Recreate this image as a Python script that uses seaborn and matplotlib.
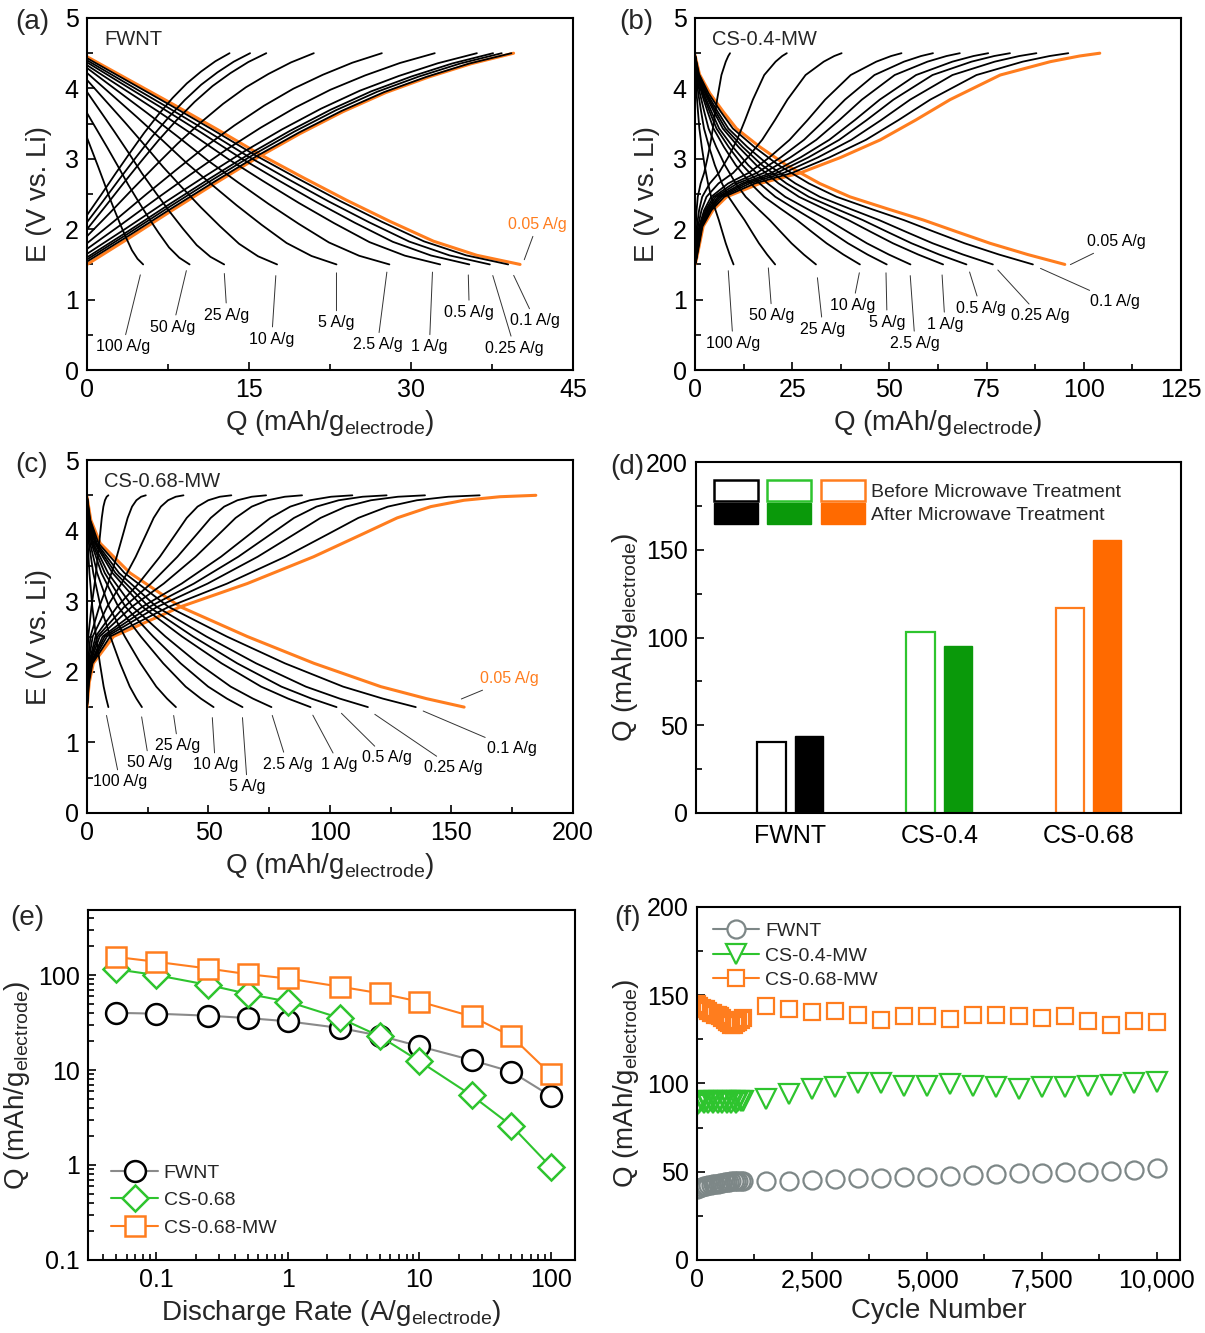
import numpy as np
import pandas as pd
import matplotlib
matplotlib.use('Agg')
import matplotlib.pyplot as plt
import matplotlib.ticker as mticker
from matplotlib.patches import Rectangle
from matplotlib.lines import Line2D
from matplotlib.legend_handler import HandlerTuple
import seaborn as sns

# ---------------- data ----------------
RATES = ['100', '50', '25', '10', '5', '2.5', '1', '0.5', '0.25', '0.1', '0.05']

# (a) FWNT : end capacities of charge / discharge branches and start voltages
FWNT_CHG_Q = [13.2, 15.1, 16.6, 21.0, 27.3, 32.2, 36.1, 37.6, 38.4, 39.3, 39.5]
FWNT_DIS_Q = [5.2, 9.5, 12.7, 17.6, 23.1, 28.0, 32.7, 35.4, 37.3, 39.0, 40.1]
FWNT_CHG_E0 = [2.2, 2.1, 2.0, 1.9, 1.8, 1.72, 1.65, 1.6, 1.57, 1.54, 1.5]
FWNT_DIS_E0 = [3.3, 3.65, 3.95, 4.12, 4.22, 4.29, 4.33, 4.37, 4.4, 4.43, 4.45]
# shape of the 0.05 A/g branches (fraction of capacity, voltage)
FWNT_CHG_SHAPE_Q = [0, 0.1, 0.2, 0.3, 0.4, 0.5, 0.6, 0.7, 0.8, 0.9, 1.0]
FWNT_CHG_SHAPE_E = [1.5, 1.88, 2.27, 2.65, 3.02, 3.36, 3.67, 3.94, 4.16, 4.35, 4.5]
FWNT_DIS_SHAPE_Q = [0, 0.1, 0.2, 0.3, 0.4, 0.5, 0.6, 0.7, 0.8, 0.9, 1.0]
FWNT_DIS_SHAPE_E = [4.45, 4.11, 3.77, 3.42, 3.06, 2.73, 2.41, 2.11, 1.83, 1.63, 1.5]

# (b) CS-0.4-MW
CS04_CHG_Q = [9.0, 23.6, 37.7, 53.1, 61.2, 68.1, 75.4, 81.0, 87.8, 96.0, 104.1]
CS04_DIS_Q = [9.9, 20.6, 31.1, 42.4, 49.3, 55.4, 63.8, 69.8, 76.6, 86.9, 95.1]
CS04_CHG_SHAPE_Q = [0, 0.003, 0.02, 0.044, 0.078, 0.16, 0.26, 0.36, 0.458, 0.545,
                    0.63, 0.754, 0.878, 0.95, 1.0]
CS04_CHG_SHAPE_E = [1.5, 1.56, 2.04, 2.27, 2.46, 2.65, 2.8, 3.02, 3.27, 3.55,
                    3.84, 4.19, 4.38, 4.46, 4.5]
CS04_DIS_SHAPE_Q = [0, 0.012, 0.04, 0.076, 0.112, 0.175, 0.247, 0.337, 0.419, 0.52,
                    0.618, 0.71, 0.798, 0.9, 1.0]
CS04_DIS_SHAPE_E = [4.47, 4.2, 3.93, 3.67, 3.43, 3.17, 2.91, 2.65, 2.46, 2.29,
                    2.13, 1.96, 1.8, 1.64, 1.5]

# (c) CS-0.68-MW
CS068_CHG_Q = [8.8, 24.2, 39.7, 59.4, 73.7, 88.5, 109.2, 123.3, 139.1, 161.6, 184.7]
CS068_DIS_Q = [8.8, 22.6, 36.6, 52.1, 64.0, 75.9, 92.0, 102.7, 115.6, 135.3, 155.2]
CS068_CHG_SHAPE_Q = [0, 0.005, 0.014, 0.059, 0.208, 0.357, 0.505, 0.617, 0.691,
                     0.766, 0.84, 0.92, 1.0]
CS068_CHG_SHAPE_E = [1.5, 1.85, 2.12, 2.5, 2.92, 3.25, 3.63, 3.96, 4.18,
                     4.34, 4.43, 4.48, 4.5]
CS068_DIS_SHAPE_Q = [0, 0.01, 0.035, 0.114, 0.248, 0.425, 0.602, 0.779, 0.9, 1.0]
CS068_DIS_SHAPE_E = [4.48, 4.15, 3.82, 3.4, 2.92, 2.5, 2.12, 1.79, 1.62, 1.5]

# (d) bars
SAMPLES = ['FWNT', 'CS-0.4', 'CS-0.68']
Q_BEFORE = [40.2, 103.2, 116.9]
Q_AFTER = [44.1, 95.1, 155.3]

# (e) rate capability
RATE_X = [0.05, 0.1, 0.25, 0.5, 1, 2.5, 5, 10, 25, 50, 100]
E_FWNT = [40.0, 39.2, 37.3, 35.2, 32.6, 27.7, 23.0, 17.8, 12.7, 9.6, 5.3]
E_CS068 = [115, 100, 78.6, 63.3, 52.6, 35.2, 22.7, 12.4, 5.4, 2.6, 0.95]
E_CS068MW = [155, 138, 117, 102, 92, 75.5, 64.3, 52.6, 36.7, 22.7, 9.0]

# (f) cycling
CYCLES = [1, 50, 100, 150, 200, 250, 300, 350, 400, 450, 500, 550, 600, 650, 700,
          750, 800, 850, 900, 950, 1000, 1500, 2000, 2500, 3000, 3500, 4000, 4500,
          5000, 5500, 6000, 6500, 7000, 7500, 8000, 8500, 9000, 9500, 10000]
F_FWNT = [40, 41, 41.5, 42, 42, 42.5, 42.5, 43, 43, 43, 43.5, 43.5, 44, 44, 44,
          44.5, 44.5, 44.5, 45, 45, 45,
          45, 45, 45.5, 46, 46.5, 46.5, 47, 47, 47.5, 48, 48.5, 49, 49.5, 50, 50,
          50.5, 51, 52]
F_CS04MW = [88, 89, 90, 89, 90, 89, 90, 89, 90, 89, 90, 89, 90, 89, 90, 89, 90,
            89, 90, 90, 90,
            91, 94, 97, 98, 100, 100, 98.5, 98.5, 99.5, 98.5, 98, 97, 98, 98, 98.5,
            99, 100, 101]
F_CS068MW = [145, 144, 143, 142, 142, 141, 140, 140, 139, 139, 138, 137, 136, 135,
             134, 133, 133, 134, 135, 136, 137,
             144, 142.3, 140.4, 141, 139, 136.2, 138.1, 138.5, 136.8, 139, 138.7,
             138.1, 137.2, 138.1, 135.3, 133.4, 135.3, 134.7]

# label layout for (a)-(c): text x, text y, end x, end y (data units)
NOTES_A = [(3.3, 0.33, 5.0, 1.39), (7.96, 0.61, 9.26, 1.45), (12.96, 0.78, 12.7, 1.41),
           (17.1, 0.44, 17.5, 1.38), (23.1, 0.67, 23.1, 1.42), (26.9, 0.36, 27.8, 1.43),
           (31.7, 0.33, 32.0, 1.43), (35.4, 0.82, 35.3, 1.39), (39.6, 0.31, 37.5, 1.38),
           (41.5, 0.70, 39.4, 1.38), (41.7, 2.07, 40.4, 1.53)]
NOTES_B = [(9.8, 0.38, 8.5, 1.45), (19.8, 0.77, 18.8, 1.49), (32.9, 0.58, 31.4, 1.35),
           (40.6, 0.92, 42.4, 1.42), (49.4, 0.68, 49.1, 1.42), (56.6, 0.38, 55.3, 1.38),
           (64.3, 0.65, 63.5, 1.39), (73.5, 0.88, 70.4, 1.43), (88.7, 0.77, 77.4, 1.45),
           (108.0, 0.97, 88.2, 1.46), (108.5, 1.82, 95.9, 1.48)]
NOTES_C = [(13.6, 0.44, 7.8, 1.42), (25.6, 0.71, 22.3, 1.40), (37.5, 0.95, 35.5, 1.42),
           (52.8, 0.68, 51.5, 1.39), (66.0, 0.37, 63.9, 1.39), (82.5, 0.69, 75.9, 1.42),
           (103.9, 0.68, 92.4, 1.42), (123.3, 0.78, 103.9, 1.44), (150.9, 0.64, 117.5, 1.42),
           (174.8, 0.91, 137.3, 1.46), (174.0, 1.90, 153.0, 1.60)]

ORANGE = '#ff7d1e'
ORANGE_FILL = '#ff6a00'
GREEN_LINE = '#2ec42e'
GREEN_FILL = '#0a990a'
GRAY = '#7d8787'

sns.set_style('ticks')
plt.rcParams['font.family'] = ['Liberation Sans', 'DejaVu Sans']
plt.rcParams['mathtext.fontset'] = 'custom'
plt.rcParams['mathtext.rm'] = 'Liberation Sans'
plt.rcParams['axes.linewidth'] = 1.5
plt.rcParams['axes.edgecolor'] = 'black'

TICK_FS = 18
LABEL_FS = 20
Q_LABEL = r'Q (mAh/g$_{\mathregular{electrode}}$)'


def style_axes(ax):
    ax.tick_params(which='both', direction='in', top=False, right=False,
                   labelsize=TICK_FS, width=1.2, colors='black')
    ax.tick_params(which='major', length=6, pad=6)
    ax.tick_params(which='minor', length=4)
    for s in ax.spines.values():
        s.set_visible(True)
        s.set_linewidth(1.5)


def gcd_frame(chg_q, dis_q, chg_e0, dis_e0, chg_shape, dis_shape):
    rows = []
    e_top = dis_shape[1][0]
    for i, rate in enumerate(RATES):
        lo = chg_e0[i]
        for q, e in zip(*chg_shape):
            rows.append({'rate': rate, 'curve': rate + '_c', 'Q': q * chg_q[i],
                         'E': lo + (e - 1.5) / 3.0 * (4.5 - lo)})
        hi = dis_e0[i]
        for q, e in zip(*dis_shape):
            rows.append({'rate': rate, 'curve': rate + '_d', 'Q': q * dis_q[i],
                         'E': 1.5 + (e - 1.5) / (e_top - 1.5) * (hi - 1.5)})
    return pd.DataFrame(rows)


def gcd_panel(ax, df, notes, name, xmax, xstep, ref_note_color):
    ref = df[df['rate'] == '0.05']
    rest = df[df['rate'] != '0.05']
    sns.lineplot(data=ref, x='Q', y='E', units='curve', estimator=None, sort=False,
                 color=ORANGE, lw=2.2, legend=False, ax=ax)
    sns.lineplot(data=rest, x='Q', y='E', units='curve', estimator=None, sort=False,
                 color='black', lw=1.3, legend=False, ax=ax)
    for rate, (tx, ty, px, py) in zip(RATES, notes):
        c = ref_note_color if rate == '0.05' else 'black'
        ax.annotate(f'{rate} A/g', xy=(px, py), xytext=(tx, ty), ha='center',
                    va='center', fontsize=11.5, color=c,
                    arrowprops=dict(arrowstyle='-', lw=0.7, color='#333333',
                                    shrinkA=1, shrinkB=2))
    ax.text(0.035, 0.94, name, transform=ax.transAxes, fontsize=14.5, va='center')
    ax.set_xlim(0, xmax)
    ax.set_ylim(0, 5)
    ax.xaxis.set_major_locator(mticker.MultipleLocator(xstep))
    ax.xaxis.set_minor_locator(mticker.MultipleLocator(xstep / 2))
    ax.yaxis.set_major_locator(mticker.MultipleLocator(1))
    ax.yaxis.set_minor_locator(mticker.MultipleLocator(0.5))
    ax.set_xlabel(Q_LABEL, fontsize=LABEL_FS)
    ax.set_ylabel('E (V vs. Li)', fontsize=LABEL_FS, labelpad=9)
    style_axes(ax)


fig = plt.figure(figsize=(12.05, 13.33), dpi=100)
ax_a = fig.add_axes([0.0722, 0.7224, 0.4033, 0.2641])
ax_b = fig.add_axes([0.5768, 0.7224, 0.4033, 0.2641])
ax_c = fig.add_axes([0.0722, 0.3901, 0.4033, 0.2648])
ax_d = fig.add_axes([0.5776, 0.3901, 0.4025, 0.2633])
ax_e = fig.add_axes([0.0730, 0.0548, 0.4041, 0.2626])
ax_f = fig.add_axes([0.5784, 0.0548, 0.4008, 0.2648])

# (a)-(c)
df_a = gcd_frame(FWNT_CHG_Q, FWNT_DIS_Q, FWNT_CHG_E0, FWNT_DIS_E0,
                 (FWNT_CHG_SHAPE_Q, FWNT_CHG_SHAPE_E), (FWNT_DIS_SHAPE_Q, FWNT_DIS_SHAPE_E))
gcd_panel(ax_a, df_a, NOTES_A, 'FWNT', 45, 15, ORANGE)

flat_lo = [1.5] * len(RATES)
df_b = gcd_frame(CS04_CHG_Q, CS04_DIS_Q, flat_lo, [CS04_DIS_SHAPE_E[0]] * len(RATES),
                 (CS04_CHG_SHAPE_Q, CS04_CHG_SHAPE_E), (CS04_DIS_SHAPE_Q, CS04_DIS_SHAPE_E))
gcd_panel(ax_b, df_b, NOTES_B, 'CS-0.4-MW', 125, 25, 'black')

df_c = gcd_frame(CS068_CHG_Q, CS068_DIS_Q, flat_lo, [CS068_DIS_SHAPE_E[0]] * len(RATES),
                 (CS068_CHG_SHAPE_Q, CS068_CHG_SHAPE_E), (CS068_DIS_SHAPE_Q, CS068_DIS_SHAPE_E))
gcd_panel(ax_c, df_c, NOTES_C, 'CS-0.68-MW', 200, 50, ORANGE)

# (d) bars before / after microwave
df_d = pd.DataFrame({
    'sample': SAMPLES * 2,
    'Q': Q_BEFORE + Q_AFTER,
    'state': ['Before'] * 3 + ['After'] * 3,
})
sns.barplot(data=df_d, x='sample', y='Q', hue='state', hue_order=['Before', 'After'],
            width=0.5, gap=0.24, legend=False, ax=ax_d)
edge_cols = ['black', GREEN_LINE, ORANGE]
fill_cols = ['black', GREEN_FILL, ORANGE_FILL]
for bar, ec in zip(ax_d.containers[0], edge_cols):
    bar.set_facecolor('white')
    bar.set_edgecolor(ec)
    bar.set_linewidth(1.6)
for bar, fc in zip(ax_d.containers[1], fill_cols):
    bar.set_facecolor(fc)
    bar.set_edgecolor(fc)
    bar.set_linewidth(1.0)
ax_d.set_xlim(-0.63, 2.62)
ax_d.set_ylim(0, 200)
ax_d.yaxis.set_major_locator(mticker.MultipleLocator(50))
ax_d.yaxis.set_minor_locator(mticker.MultipleLocator(25))
ax_d.set_xlabel('')
ax_d.set_ylabel(Q_LABEL, fontsize=LABEL_FS)
style_axes(ax_d)
ax_d.tick_params(axis='x', length=0, pad=8)
before_h = tuple(Rectangle((0, 0), 1, 1, fc='white', ec=c, lw=1.8) for c in edge_cols)
after_h = tuple(Rectangle((0, 0), 1, 1, fc=c, ec=c, lw=1.0) for c in fill_cols)
ax_d.legend([before_h, after_h], ['Before Microwave Treatment', 'After Microwave Treatment'],
            handler_map={tuple: HandlerTuple(ndivide=None, pad=0.5)},
            loc='upper left', frameon=False, fontsize=14, handlelength=7.8,
            handleheight=1.3, labelspacing=0.1, handletextpad=0.3,
            borderaxespad=0.5)

# (e) rate capability
sns.lineplot(x=RATE_X, y=E_FWNT, color='#8a8a8a', lw=1.5, marker='o', ms=15,
             mfc='white', mec='black', mew=1.8, label='FWNT', ax=ax_e)
sns.lineplot(x=RATE_X, y=E_CS068, color=GREEN_LINE, lw=1.5, marker='D', ms=13,
             mfc='white', mec=GREEN_LINE, mew=1.8, label='CS-0.68', ax=ax_e)
sns.lineplot(x=RATE_X, y=E_CS068MW, color=ORANGE, lw=1.5, marker='s', ms=14,
             mfc='white', mec=ORANGE, mew=1.8, label='CS-0.68-MW', ax=ax_e)
ax_e.set_xscale('log')
ax_e.set_yscale('log')
ax_e.set_xlim(0.0305, 152)
ax_e.set_ylim(0.1, 485)
fmt = mticker.FuncFormatter(lambda v, _: f'{v:g}')
ax_e.xaxis.set_major_formatter(fmt)
ax_e.yaxis.set_major_formatter(fmt)
ax_e.xaxis.set_minor_formatter(mticker.NullFormatter())
ax_e.yaxis.set_minor_formatter(mticker.NullFormatter())
ax_e.set_xlabel(r'Discharge Rate (A/g$_{\mathregular{electrode}}$)', fontsize=LABEL_FS)
ax_e.set_ylabel(Q_LABEL, fontsize=LABEL_FS)
style_axes(ax_e)
ax_e.legend(loc='lower left', frameon=False, fontsize=14, handlelength=2.4,
            handletextpad=0.3, labelspacing=0.5, borderaxespad=0.8)

# (f) cycling stability
sns.lineplot(x=CYCLES, y=F_FWNT, estimator=None, sort=False, ls='none', marker='o',
             ms=13, mfc='none', mec=GRAY, mew=1.6, ax=ax_f)
sns.lineplot(x=CYCLES, y=F_CS04MW, estimator=None, sort=False, ls='none', marker='v',
             ms=14, mfc='none', mec=GREEN_LINE, mew=1.6, ax=ax_f)
sns.lineplot(x=CYCLES, y=F_CS068MW, estimator=None, sort=False, ls='none', marker='s',
             ms=12, mfc='none', mec=ORANGE, mew=1.6, ax=ax_f)
ax_f.set_xlim(0, 10500)
ax_f.set_ylim(0, 200)
ax_f.xaxis.set_major_locator(mticker.MultipleLocator(2500))
ax_f.xaxis.set_minor_locator(mticker.MultipleLocator(1250))
ax_f.xaxis.set_major_formatter(mticker.FuncFormatter(lambda v, _: f'{v:,.0f}'))
ax_f.yaxis.set_major_locator(mticker.MultipleLocator(50))
ax_f.yaxis.set_minor_locator(mticker.MultipleLocator(25))
ax_f.set_xlabel('Cycle Number', fontsize=LABEL_FS)
ax_f.set_ylabel(Q_LABEL, fontsize=LABEL_FS)
style_axes(ax_f)
f_handles = [
    Line2D([], [], color=GRAY, lw=1.5, marker='o', ms=13, mfc='white', mec=GRAY, mew=1.6),
    Line2D([], [], color=GREEN_LINE, lw=1.5, marker='v', ms=14, mfc='white', mec=GREEN_LINE, mew=1.6),
    Line2D([], [], color=ORANGE, lw=1.5, marker='s', ms=12, mfc='white', mec=ORANGE, mew=1.6),
]
ax_f.legend(f_handles, ['FWNT', 'CS-0.4-MW', 'CS-0.68-MW'], loc='upper left',
            frameon=False, fontsize=14, handlelength=2.4, handletextpad=0.3,
            labelspacing=0.35, borderaxespad=0.4)

# panel letters
for lab, (x, y) in zip(['(a)', '(b)', '(c)', '(d)', '(e)', '(f)'],
                       [(32, 22), (636, 22), (32, 465), (627, 467), (27, 918), (628, 918)]):
    fig.text(x / 1205, 1 - y / 1333, lab, fontsize=20, ha='center', va='center')

fig.savefig('out.png', dpi=100)
